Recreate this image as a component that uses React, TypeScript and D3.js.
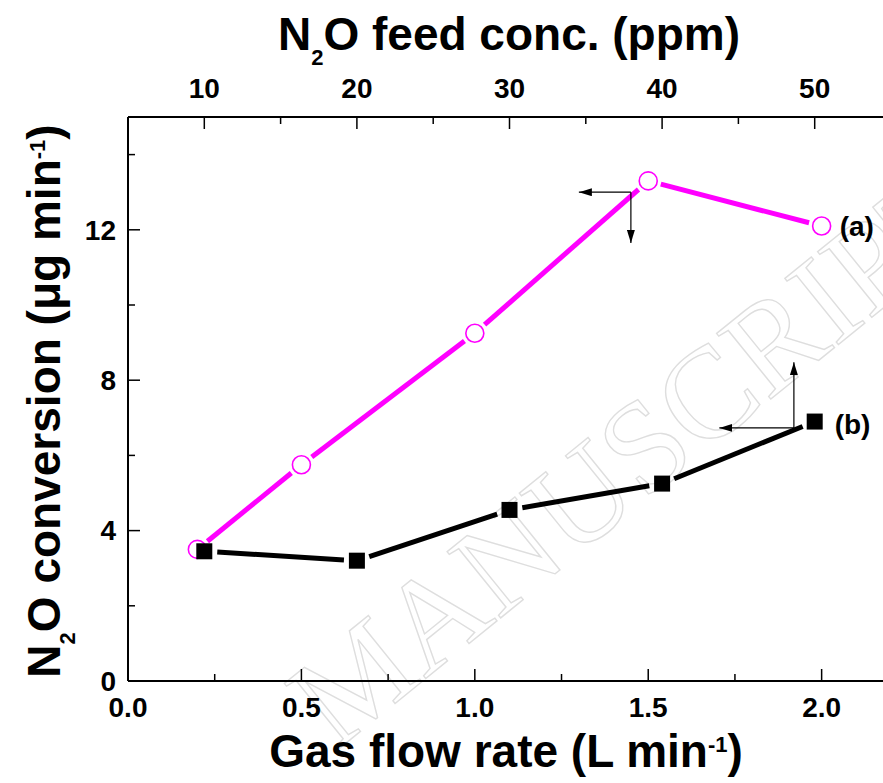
import React from 'react';
import * as d3 from 'd3';

// series (a): conversion vs gas flow rate (bottom axis)
const flowRate = [0.2, 0.5, 1.0, 1.5, 2.0];
const conversionA = [3.5, 5.75, 9.25, 13.3, 12.1];
// series (b): conversion vs N2O feed conc. (top axis)
const feedConc = [10, 20, 30, 40, 50];
const conversionB = [3.45, 3.2, 4.55, 5.25, 6.9];

const flowTicks = [0, 0.5, 1.0, 1.5, 2.0];
const concTicks = [10, 20, 30, 40, 50];
const convTicks = [0, 4, 8, 12];

const W = 883;
const H = 783;
const FONT = '"Liberation Sans", Arial, Helvetica, sans-serif';
const MAGENTA = '#ff00ff';

// line segments between markers, pulled back so they don't touch them
function gapSegments(pts: [number, number][], gap: number) {
  return d3.pairs(pts).map(([a, b]) => {
    const dx = b[0] - a[0], dy = b[1] - a[1];
    const L = Math.hypot(dx, dy);
    const ux = dx / L, uy = dy / L;
    return [a[0] + ux * gap, a[1] + uy * gap, b[0] - ux * gap, b[1] - uy * gap];
  });
}

export default function App() {
  const x = d3.scaleLinear().domain([0, 2.2]).range([128, 891]);
  const xTop = d3.scaleLinear().domain([5, 55]).range([128, 891]);
  const y = d3.scaleLinear().domain([0, 15]).range([681, 117]);

  const [x0, x1] = x.range();
  const [yb, yt] = y.range();

  const ptsA: [number, number][] = flowRate.map((v, i) => [x(v), y(conversionA[i])]);
  const ptsB: [number, number][] = feedConc.map((v, i) => [xTop(v), y(conversionB[i])]);

  const xMinor = d3.range(0.25, 2.2, 0.5);
  const topMinor = d3.range(15, 55, 10);
  const yMinor = d3.range(2, 15, 4);

  const MAJ = 12, MIN = 7;

  // arrow anchors in data units
  const arrA = { ox: x(1.45), oy: y(13.0), lx: x(1.3), dy: y(11.65) };
  const arrB = { ox: x(1.92), oy: y(6.73), lx: x(1.705), uy: y(8.48) };

  return (
    <svg width={W} height={H} style={{ position: 'absolute', left: 0, top: 0, background: '#fff' }}
      fontFamily={FONT} fontWeight="bold">
      <defs>
        <marker id="ah" viewBox="0 0 13 8" refX={13} refY={4} markerWidth={13} markerHeight={8}
          orient="auto" markerUnits="userSpaceOnUse">
          <path d="M0,0 L13,4 L0,8 Z" fill="#000" />
        </marker>
      </defs>

      {/* watermark */}
      <g transform="translate(335,752) rotate(-39)" fill="none" stroke="#dedede" strokeWidth={1.4}
        fontFamily='"Liberation Serif", "DejaVu Serif", serif' fontWeight="normal" fontSize={130}>
        <text x={0} y={0}>MANUSCRIPT</text>
      </g>

      {/* frame */}
      <g stroke="#000" strokeWidth={2} fill="none">
        <line x1={x0} y1={yb} x2={x1} y2={yb} />
        <line x1={x0} y1={yt} x2={x1} y2={yt} />
        <line x1={x0} y1={yb} x2={x0} y2={yt} />
        <line x1={x1} y1={yb} x2={x1} y2={yt} />
      </g>

      {/* ticks */}
      <g stroke="#000" strokeWidth={1.5}>
        {flowTicks.map(t => <line key={'fx' + t} x1={x(t)} x2={x(t)} y1={yb} y2={yb - MAJ} />)}
        {xMinor.map(t => <line key={'fm' + t} x1={x(t)} x2={x(t)} y1={yb} y2={yb - MIN} />)}
        {concTicks.map(t => <line key={'cx' + t} x1={xTop(t)} x2={xTop(t)} y1={yt} y2={yt + MAJ} />)}
        {topMinor.map(t => <line key={'cm' + t} x1={xTop(t)} x2={xTop(t)} y1={yt} y2={yt + MIN} />)}
        {convTicks.map(t => <line key={'y' + t} x1={x0} x2={x0 + MAJ} y1={y(t)} y2={y(t)} />)}
        {yMinor.map(t => <line key={'ym' + t} x1={x0} x2={x0 + MIN} y1={y(t)} y2={y(t)} />)}
      </g>

      {/* tick labels */}
      <g fontSize={28} fill="#000">
        {flowTicks.map(t => (
          <text key={'fl' + t} x={x(t)} y={717} textAnchor="middle">{d3.format('.1f')(t)}</text>
        ))}
        {concTicks.map(t => (
          <text key={'cl' + t} x={xTop(t)} y={98} textAnchor="middle">{t}</text>
        ))}
        {convTicks.map(t => (
          <text key={'yl' + t} x={116} y={y(t)} dy="0.35em" textAnchor="end">{t}</text>
        ))}
      </g>

      {/* axis titles */}
      <text x={509} y={50} fontSize={46} textAnchor="middle">
        N<tspan fontSize={22} dy={15}>2</tspan><tspan dy={-15}>O feed conc. (ppm)</tspan>
      </text>
      <text x={506} y={767} fontSize={46} textAnchor="middle">
        Gas flow rate (L min<tspan fontSize={22} dy={-15}>-1</tspan><tspan dy={15}>)</tspan>
      </text>
      <text transform="translate(60,401) rotate(-90)" fontSize={46} textAnchor="middle">
        N<tspan fontSize={22} dy={15}>2</tspan><tspan dy={-15}>O conversion (μg min</tspan>
        <tspan fontSize={22} dy={-15}>-1</tspan><tspan dy={15}>)</tspan>
      </text>

      {/* series (a) */}
      <g stroke={MAGENTA} strokeWidth={5}>
        {gapSegments(ptsA, 13).map((s, i) => <line key={'la' + i} x1={s[0]} y1={s[1]} x2={s[2]} y2={s[3]} />)}
      </g>
      {ptsA.map((p, i) => (
        <circle key={'ca' + i} cx={p[0]} cy={p[1]} r={9} fill="#fff" stroke={MAGENTA} strokeWidth={1.6} />
      ))}

      {/* series (b) */}
      <g stroke="#000" strokeWidth={5}>
        {gapSegments(ptsB, 13).map((s, i) => <line key={'lb' + i} x1={s[0]} y1={s[1]} x2={s[2]} y2={s[3]} />)}
      </g>
      {ptsB.map((p, i) => (
        <rect key={'sb' + i} x={p[0] - 8} y={p[1] - 8} width={16} height={16} fill="#000" />
      ))}

      {/* axis-pointer arrows */}
      <g stroke="#000" strokeWidth={1.2}>
        <line x1={arrA.ox} y1={arrA.oy} x2={arrA.lx} y2={arrA.oy} markerEnd="url(#ah)" />
        <line x1={arrA.ox} y1={arrA.oy} x2={arrA.ox} y2={arrA.dy} markerEnd="url(#ah)" />
        <line x1={arrB.ox} y1={arrB.oy} x2={arrB.lx} y2={arrB.oy} markerEnd="url(#ah)" />
        <line x1={arrB.ox} y1={arrB.oy} x2={arrB.ox} y2={arrB.uy} markerEnd="url(#ah)" />
      </g>

      {/* series labels */}
      <text x={ptsA[4][0] + 18} y={ptsA[4][1] + 10} fontSize={28}>(a)</text>
      <text x={ptsB[4][0] + 20} y={ptsB[4][1] + 12} fontSize={28}>(b)</text>
    </svg>
  );
}
